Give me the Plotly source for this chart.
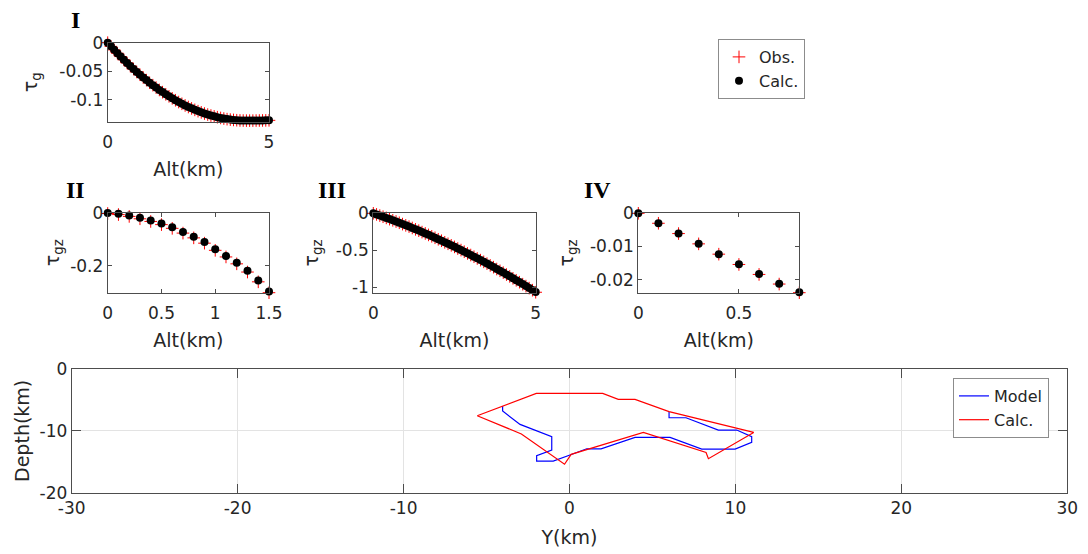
import plotly.graph_objects as go

# ---------------- data ----------------
alt_I = [0.0, 0.1, 0.2, 0.3, 0.4, 0.5, 0.6, 0.7, 0.8, 0.9, 1.0, 1.1, 1.2, 1.3, 1.4, 1.5, 1.6, 1.7,
         1.8, 1.9, 2.0, 2.1, 2.2, 2.3, 2.4, 2.5, 2.6, 2.7, 2.8, 2.9, 3.0, 3.1, 3.2, 3.3, 3.4, 3.5,
         3.6, 3.7, 3.8, 3.9, 4.0, 4.1, 4.2, 4.3, 4.4, 4.5, 4.6, 4.7, 4.8, 4.9, 5.0]
calc_I = [0.0, -0.0063, -0.0124, -0.0183, -0.0241, -0.0298, -0.0353, -0.0407, -0.0459, -0.0510,
          -0.0559, -0.0607, -0.0653, -0.0698, -0.0741, -0.0783, -0.0824, -0.0863, -0.0900, -0.0936,
          -0.0971, -0.1004, -0.1036, -0.1066, -0.1095, -0.1122, -0.1147, -0.1172, -0.1195, -0.1216,
          -0.1236, -0.1254, -0.1271, -0.1286, -0.1300, -0.1313, -0.1324, -0.1334, -0.1342, -0.1348,
          -0.1353, -0.1357, -0.1359, -0.1360, -0.1360, -0.1360, -0.1359, -0.1358, -0.1357, -0.1356,
          -0.1355]
obs_I = [0.0, -0.0064, -0.0125, -0.0184, -0.0242, -0.0299, -0.0354, -0.0408, -0.0460, -0.0511,
         -0.0560, -0.0608, -0.0654, -0.0699, -0.0742, -0.0784, -0.0825, -0.0864, -0.0901, -0.0937,
         -0.0972, -0.1005, -0.1037, -0.1067, -0.1096, -0.1123, -0.1148, -0.1173, -0.1196, -0.1217,
         -0.1237, -0.1255, -0.1272, -0.1287, -0.1301, -0.1314, -0.1325, -0.1335, -0.1343, -0.1349,
         -0.1354, -0.1358, -0.1360, -0.1361, -0.1361, -0.1361, -0.1360, -0.1359, -0.1358, -0.1357,
         -0.1356]

alt_II = [0.0, 0.1, 0.2, 0.3, 0.4, 0.5, 0.6, 0.7, 0.8, 0.9, 1.0, 1.1, 1.2, 1.3, 1.4, 1.5]
calc_II = [-0.001, -0.004, -0.011, -0.019, -0.029, -0.041, -0.055, -0.073, -0.091, -0.111,
           -0.138, -0.163, -0.189, -0.219, -0.256, -0.297]
obs_II = [-0.003, -0.007, -0.014, -0.023, -0.033, -0.045, -0.059, -0.077, -0.095, -0.115,
          -0.142, -0.167, -0.193, -0.224, -0.261, -0.302]

alt_III = alt_I
calc_III = [0.0, -0.015, -0.030, -0.046, -0.062, -0.078, -0.094, -0.111, -0.128, -0.145,
            -0.162, -0.180, -0.198, -0.216, -0.234, -0.253, -0.272, -0.291, -0.310, -0.330,
            -0.350, -0.370, -0.391, -0.411, -0.432, -0.453, -0.475, -0.496, -0.518, -0.541,
            -0.563, -0.586, -0.609, -0.632, -0.655, -0.679, -0.703, -0.727, -0.752, -0.776,
            -0.801, -0.827, -0.852, -0.878, -0.904, -0.930, -0.957, -0.983, -1.010, -1.038,
            -1.065]
obs_III = [0.0, -0.015, -0.031, -0.046, -0.062, -0.079, -0.095, -0.111, -0.128, -0.146,
           -0.163, -0.180, -0.198, -0.217, -0.235, -0.254, -0.272, -0.292, -0.311, -0.331,
           -0.351, -0.371, -0.392, -0.412, -0.433, -0.454, -0.476, -0.497, -0.519, -0.542,
           -0.564, -0.587, -0.610, -0.633, -0.656, -0.680, -0.704, -0.728, -0.753, -0.777,
           -0.802, -0.828, -0.853, -0.879, -0.905, -0.931, -0.958, -0.984, -1.011, -1.039,
           -1.067]

alt_IV = [0.0, 0.1, 0.2, 0.3, 0.4, 0.5, 0.6, 0.7, 0.8]
calc_IV = [0.0, -0.0030, -0.0061, -0.0092, -0.0123, -0.0153, -0.0183, -0.0212, -0.0238]
obs_IV = [0.0, -0.0030, -0.0061, -0.0092, -0.0123, -0.0154, -0.0184, -0.0213, -0.0239]

model_y = [-4.03, -4.03, -2.98, -1.07, -1.07, -1.98, -1.98, -0.98, 0.03, 1.04, 1.90, 3.95,
           6.06, 7.97, 9.98, 10.98, 10.98, 10.08, 8.97, 7.02, 6.00, 6.00]
model_depth = [-6.0, -6.8, -8.95, -10.95, -13.1, -14.0, -14.9, -14.9, -13.9, -12.9, -12.9,
               -11.06, -11.06, -12.94, -12.94, -11.86, -10.95, -9.87, -9.87, -7.88, -7.88,
               -6.9]
calc_y = [-5.56, -2.00, 2.00, 2.94, 3.95, 6.00, 11.10, 8.37, 8.23, 4.45, 0.10, -0.30, -2.90, -5.56]
calc_depth = [-7.55, -3.94, -3.94, -4.91, -4.91, -6.90, -10.25, -14.50, -13.50, -10.25, -13.80,
              -15.40, -10.50, -7.55]

# ---------------- style ----------------
W, H = 1088, 554
FONT = "DejaVu Sans"
TXT = "#262626"
AX = "#4d4d4d"
TICKF = 17
TITLEF = 19


def px_x(a, b):
    return [a / W, b / W]


def px_y(top, bottom):
    return [1 - bottom / H, 1 - top / H]


def small_x(dom, rng, tv, tt, anchor):
    return dict(domain=dom, range=rng, anchor=anchor, automargin=False,
                tickvals=tv, ticktext=tt, ticks="inside", ticklen=4, tickcolor=AX,
                ticklabelstandoff=5,
                showline=True, linecolor=AX, linewidth=1, mirror="ticks", showgrid=False,
                zeroline=False, tickfont=dict(family=FONT, size=TICKF, color=TXT),
                title=dict(text="Alt(km)", font=dict(family=FONT, size=TITLEF, color=TXT), standoff=11))


def small_y(dom, rng, tv, tt, anchor, title, so):
    return dict(domain=dom, range=rng, anchor=anchor, automargin=False, tickvals=tv, ticktext=tt,
                ticks="inside", ticklen=4,
                tickcolor=AX, showline=True, linecolor=AX, linewidth=1, mirror="ticks",
                showgrid=False, zeroline=False,
                tickfont=dict(family=FONT, size=TICKF, color=TXT),
                title=dict(text=title, font=dict(family=FONT, size=TITLEF, color=TXT), standoff=so))


fig = go.Figure()

obs_marker = dict(symbol="cross-thin", size=9, line=dict(color="#ff0000", width=1), color="#ff0000")
calc_marker = dict(symbol="circle", size=8, color="#000000")

panels = [
    (alt_I, obs_I, calc_I, "x", "y", True),
    (alt_II, obs_II, calc_II, "x2", "y2", False),
    (alt_III, obs_III, calc_III, "x3", "y3", False),
    (alt_IV, obs_IV, calc_IV, "x4", "y4", False),
]
for xs, ob, ca, xa, ya, sl in panels:
    fig.add_trace(go.Scatter(x=xs, y=ob, mode="markers", marker=obs_marker, name="Obs.",
                             xaxis=xa, yaxis=ya, showlegend=sl, cliponaxis=False, legend="legend"))
for xs, ob, ca, xa, ya, sl in panels:
    fig.add_trace(go.Scatter(x=xs, y=ca, mode="markers", marker=calc_marker, name="Calc.",
                             xaxis=xa, yaxis=ya, showlegend=sl, cliponaxis=False, legend="legend"))

fig.add_trace(go.Scatter(x=model_y, y=model_depth, mode="lines", name="Model",
                         line=dict(color="#0000ff", width=1.2), xaxis="x5", yaxis="y5",
                         legend="legend2"))
fig.add_trace(go.Scatter(x=calc_y, y=calc_depth, mode="lines", name="Calc.",
                         line=dict(color="#ff0000", width=1.2), xaxis="x5", yaxis="y5",
                         legend="legend2"))

xI = small_x(px_x(107.7, 269), [0, 5], [0, 5], ["0", "5"], "y")
yI = small_y(px_y(42.7, 122), [-0.1385, 0], [-0.1, -0.05, 0], ["-0.1", "-0.05", "0"], "x",
             "τ<sub>g</sub>", 16)

xII = small_x(px_x(107.7, 269), [0, 1.5], [0, 0.5, 1, 1.5], ["0", "0.5", "1", "1.5"], "y2")
yII = small_y(px_y(212.7, 292.7), [-0.302, 0], [-0.2, 0], ["-0.2", "0"], "x2",
              "τ<sub>gz</sub>", 5)

xIII = small_x(px_x(373.3, 535.7), [0, 5], [0, 5], ["0", "5"], "y3")
yIII = small_y(px_y(213.3, 292.7), [-1.073, 0], [-1, -0.5, 0], ["-1", "-0.5", "0"], "x3",
               "τ<sub>gz</sub>", 12)

xIV = small_x(px_x(638.3, 799.3), [0, 0.8], [0, 0.5], ["0", "0.5"], "y4")
yIV = small_y(px_y(213.3, 292.7), [-0.0239, 0], [-0.02, -0.01, 0], ["-0.02", "-0.01", "0"], "x4",
              "τ<sub>gz</sub>", 11)

xticks5 = [-30, -20, -10, 0, 10, 20, 30]
yticks5 = [-20, -10, 0]
x5 = dict(domain=px_x(71.7, 1067.3), anchor="y5", range=[-30, 30], tickvals=xticks5,
          automargin=False,
          ticktext=[str(v) for v in xticks5], ticks="inside", ticklen=9, tickcolor=AX,
          showline=True, linecolor=AX, linewidth=1, mirror="ticks", showgrid=True,
          gridcolor="#e3e3e3", gridwidth=1, zeroline=False,
          tickfont=dict(family=FONT, size=TICKF, color=TXT),
          title=dict(text="Y(km)", font=dict(family=FONT, size=TITLEF, color=TXT), standoff=13))
y5 = dict(domain=px_y(369, 492.7), anchor="x5", range=[-20, 0], tickvals=yticks5,
          automargin=False,
          ticktext=[str(v) for v in yticks5], ticks="inside", ticklen=9, tickcolor=AX,
          showline=True, linecolor=AX, linewidth=1, mirror="ticks", showgrid=True,
          gridcolor="#e3e3e3", gridwidth=1, zeroline=False,
          tickfont=dict(family=FONT, size=TICKF, color=TXT),
          title=dict(text="Depth(km)", font=dict(family=FONT, size=TITLEF, color=TXT), standoff=4))

annots = []
for txt, cx, cy in (("I", 75.5, 20), ("II", 75, 190), ("III", 332, 190), ("IV", 597, 190)):
    annots.append(dict(text=f"<b>{txt}</b>", x=cx / W, y=1 - cy / H, xref="paper", yref="paper",
                       xanchor="center", yanchor="middle", showarrow=False,
                       font=dict(family="Liberation Serif", size=24, color="#000000")))

fig.update_layout(
    width=W, height=H, autosize=False,
    margin=dict(l=0, r=0, t=0, b=0, autoexpand=False),
    paper_bgcolor="white", plot_bgcolor="white",
    xaxis=xI, yaxis=yI, xaxis2=xII, yaxis2=yII, xaxis3=xIII, yaxis3=yIII,
    xaxis4=xIV, yaxis4=yIV, xaxis5=x5, yaxis5=y5,
    annotations=annots,
    legend=dict(x=718 / W, y=1 - 39 / H, xanchor="left", yanchor="top", bgcolor="white",
                bordercolor="#8c8c8c", borderwidth=1,
                font=dict(family=FONT, size=16, color=TXT), tracegroupgap=0),
    legend2=dict(x=953 / W, y=1 - 378 / H, xanchor="left", yanchor="top", bgcolor="white",
                 bordercolor="#8c8c8c", borderwidth=1,
                 font=dict(family=FONT, size=16, color=TXT), tracegroupgap=0),
    showlegend=True,
)

fig.write_html("out.html")
